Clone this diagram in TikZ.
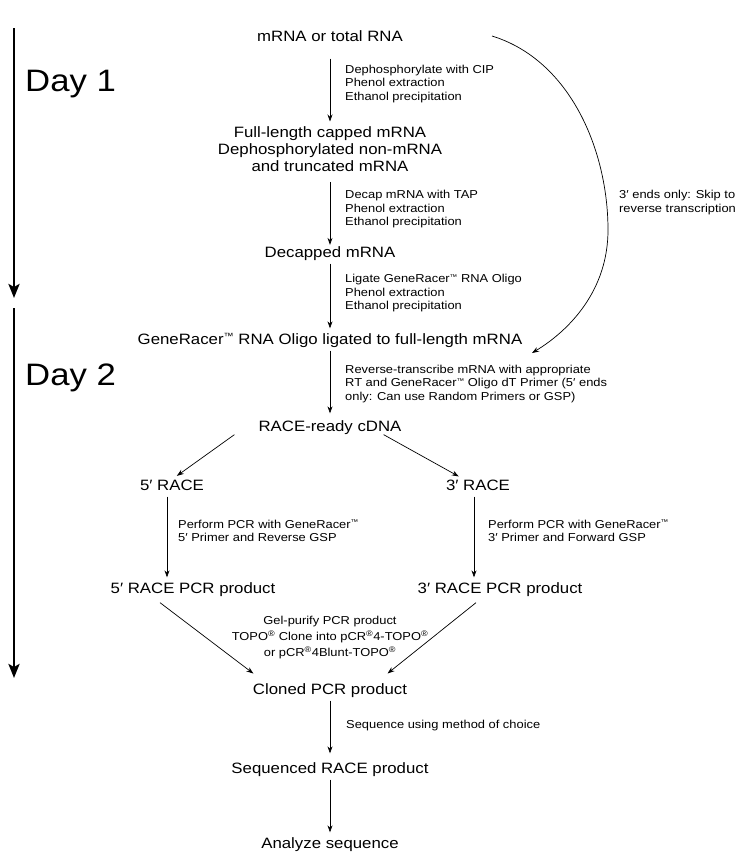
\documentclass[tikz,border=0pt]{standalone}
\usepackage{fontspec}
\setmainfont[FakeStretch=1.12]{Liberation Sans}
\usepackage{tikz}
\usetikzlibrary{arrows.meta,positioning,calc}

\newcommand{\stagefont}{\fontsize{15}{17}\selectfont}
\newcommand{\notefont}{\fontsize{11.5}{13.5}\selectfont}
\newcommand{\dayfont}{\fontsize{31}{34}\selectfont}
\newcommand{\tmk}{\raisebox{0.3em}{\scalebox{0.6}{™}}}

\begin{document}
\begin{tikzpicture}[x=1pt,y=-1pt,
    stage/.style={font=\stagefont, inner sep=0pt, text height=10.7pt, text depth=3.2pt},
    stagebox/.style={font=\stagefont, inner sep=0pt, align=center},
    note/.style={font=\notefont, inner sep=0pt, anchor=west, align=left},
    flow/.style={-{Stealth[length=7pt,width=5pt]}, line width=0.7pt, shorten <=3pt, shorten >=5pt},
    dayline/.style={-{Stealth[length=14pt,width=11pt,inset=3pt]}, line width=2.6pt},
    dayname/.style={font=\dayfont, inner sep=0pt, anchor=west}]
    \useasboundingbox (0,0) rectangle (739,852);

    % day markers
    \coordinate (d1top) at (14,28); \coordinate (d1end) at (14,298);
    \coordinate (d2top) at (14,308); \coordinate (d2end) at (14,678);
    \draw[dayline] (d1top) -- (d1end); \draw[dayline] (d2top) -- (d2end);
    \node[dayname] (day1) at (25,84) {Day 1};
    \node[dayname] (day2) at (25,378) {Day 2};

    % main column
    \node[stage] (rna) at (330,37.5) {mRNA or total RNA};
    \node[stagebox, anchor=north] (capped) at (330,126.5) {Full-length capped mRNA\\Dephosphorylated non-mRNA\\and truncated mRNA};
    \node[stage] (decap) at (330,253.5) {Decapped mRNA};
    \node[stage] (ligated) at (330,340.5) {GeneRacer\tmk\ RNA Oligo ligated to full-length mRNA};
    \node[stage] (cdna) at (330,427.5) {RACE-ready cDNA};
    \node[stage] (race5) at (172,486.5) {5′ RACE}; \node[stage] (race3) at (478,486.5) {3′ RACE};
    \node[stage] (pcr5) at (193,589.5) {5′ RACE PCR product}; \node[stage] (pcr3) at (500,589.5) {3′ RACE PCR product};
    \node[stage] (cloned) at (330,690.5) {Cloned PCR product};
    \node[stage] (seqd) at (330,769.5) {Sequenced RACE product};
    \node[stage] (analyze) at (330,844.5) {Analyze sequence};

    % step notes
    \node[note] (n1) at (345,84) {Dephosphorylate with CIP\\Phenol extraction\\Ethanol precipitation};
    \node[note] (n2) at (345,209.5) {Decap mRNA with TAP\\Phenol extraction\\Ethanol precipitation};
    \node[note] (n3) at (345,293.5) {Ligate GeneRacer\tmk\ RNA Oligo\\Phenol extraction\\Ethanol precipitation};
    \node[note] (n4) at (345,384) {Reverse-transcribe mRNA  with appropriate\\RT and GeneRacer\tmk\ Oligo dT Primer (5′ ends\\only: Can use Random Primers or GSP)};
    \node[note] (n5) at (178,531) {Perform PCR with GeneRacer\tmk\\5′ Primer and Reverse GSP};
    \node[note] (n6) at (488,531) {Perform PCR with GeneRacer\tmk\\3′ Primer and Forward GSP};
    \node[note, anchor=center, align=center, font=\fontsize{11.5}{16}\selectfont] (n7) at (330,638)
        {Gel-purify PCR product\\TOPO\textsuperscript{®} Clone into pCR\textsuperscript{®}4-TOPO\textsuperscript{®}\\or pCR\textsuperscript{®}4Blunt-TOPO\textsuperscript{®}};
    \node[note] (n8) at (346,726) {Sequence using method of choice};
    \node[note] (n9) at (619,202.5) {3′ ends only: Skip to\\reverse transcription};

    % connectors
    \draw[flow, shorten <=14pt] (rna) -- (capped);
    \draw[flow, shorten <=10pt, shorten >=1.5pt] (capped) -- (decap);
    \draw[flow] (decap) -- (ligated);
    \draw[flow, shorten >=7pt] (ligated) -- (cdna);
    \draw[flow, shorten <=0pt, shorten >=6pt] ([xshift=-24pt]cdna.south west) -- (race5.north);
    \draw[flow, shorten <=0pt, shorten >=6pt] ([xshift=-18pt]cdna.south east) -- ([xshift=-14pt]race3.north);
    \draw[flow] ([xshift=-5pt]race5.south) -- ([xshift=-5pt]race5.south |- pcr5.north);
    \draw[flow] ([xshift=-4pt]race3.south) -- ([xshift=-4pt]race3.south |- pcr3.north);
    \draw[flow, shorten <=0pt, shorten >=3pt] ([xshift=-33pt,yshift=-6pt]pcr5.south) -- ([xshift=3pt,yshift=8pt]cloned.north west);
    \draw[flow, shorten <=0pt, shorten >=3pt] ([xshift=-24pt,yshift=-6pt]pcr3.south) -- ([xshift=-22pt,yshift=8pt]cloned.north east);
    \draw[flow, shorten >=9pt] (cloned) -- (seqd);
    \draw[flow] (seqd) -- (analyze);

    % 3' shortcut
    \coordinate (skipfrom) at (492,36); \coordinate (skipto) at (532,353);
    \draw[flow, shorten <=0pt, shorten >=0pt] (skipfrom) .. controls (570,60) and (608,150) .. (608,230)
        .. controls (608,290) and (570,330) .. (skipto);
\end{tikzpicture}
\end{document}
